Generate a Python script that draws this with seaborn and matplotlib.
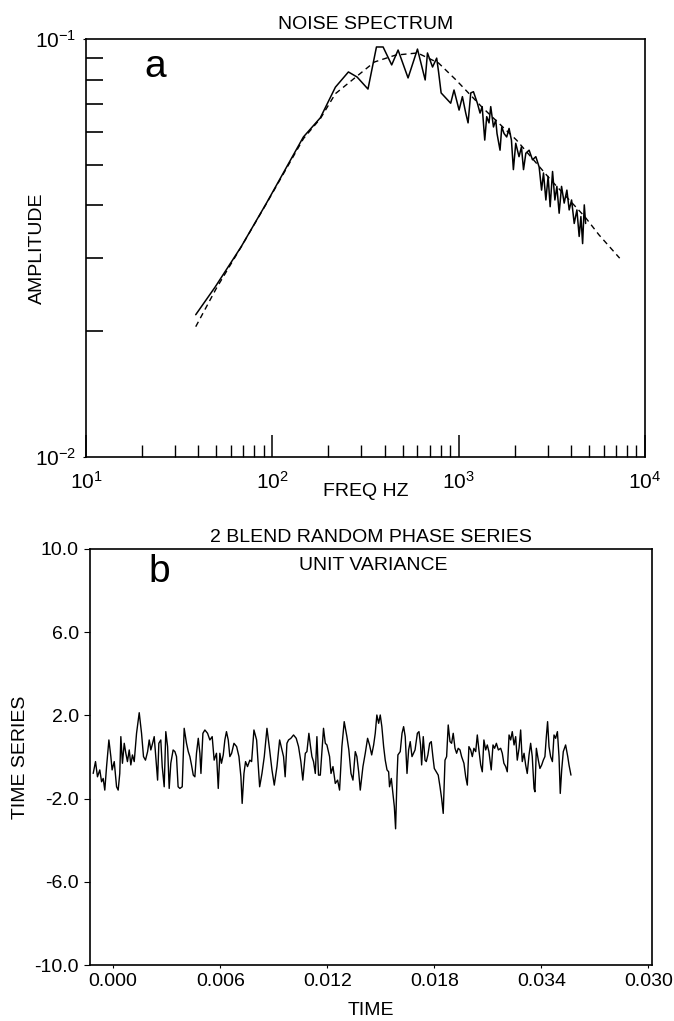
import numpy as np
import pandas as pd
import matplotlib
matplotlib.use('Agg')
import matplotlib.pyplot as plt
from matplotlib.ticker import NullFormatter
import seaborn as sns

spec_freq = [38.8, 49.3, 67.9, 93.3, 146.8, 181, 218, 256, 285, 326, 362, 393, 437, 473, 535,
             601, 661, 680, 724, 762, 780, 805, 906, 944, 1005, 1047, 1091, 1123, 1161, 1200,
             1260, 1302, 1337, 1380, 1414, 1455, 1486, 1537, 1581, 1606, 1667, 1703, 1752, 1810,
             1864, 1919, 1966, 2024, 2108, 2172, 2228, 2293, 2388, 2490, 2594, 2703, 2785, 2852,
             2937, 3020, 3097, 3190, 3283, 3365, 3461, 3565, 3683, 3808, 3918, 4035, 4169, 4310,
             4432, 4528, 4625, 4721, 4801]
spec_amp = [0.0219, 0.0255, 0.0318, 0.0406, 0.0583, 0.0648, 0.0767, 0.0834, 0.0811, 0.0759,
            0.0957, 0.0957, 0.0867, 0.0941, 0.0807, 0.0946, 0.0798, 0.0926, 0.0857, 0.0900,
            0.0834, 0.0743, 0.0702, 0.0755, 0.0676, 0.0728, 0.0665, 0.0630, 0.0743, 0.0748,
            0.0702, 0.0665, 0.0689, 0.0573, 0.0652, 0.0630, 0.0689, 0.0616, 0.0640, 0.0594,
            0.0542, 0.0616, 0.0594, 0.0583, 0.0611, 0.0573, 0.0487, 0.0563, 0.0523, 0.0552,
            0.0487, 0.0533, 0.0542, 0.0514, 0.0523, 0.0494, 0.0435, 0.0478, 0.0412, 0.0469,
            0.0397, 0.0482, 0.0412, 0.0444, 0.0383, 0.0444, 0.0405, 0.0435, 0.0390, 0.0412,
            0.0362, 0.0390, 0.0337, 0.0376, 0.0324, 0.0401, 0.0362]
model_freq = [38.8, 50, 68, 93, 147, 181, 218, 277, 353, 458, 601, 780, 968, 1334, 2044,
              3122, 4770, 5660, 7311]
model_amp = [0.0205, 0.0253, 0.0318, 0.0404, 0.0578, 0.0645, 0.0740, 0.0807, 0.0881, 0.0915,
             0.0926, 0.0876, 0.0798, 0.0687, 0.0573, 0.0460, 0.0375, 0.0340, 0.0299]

# panel b: random phase time series, time in ms (three stretches as read)
ts_ms_1 = [-1.12, -0.99, -0.88, -0.75, -0.65, -0.56, -0.47, -0.37, -0.24, -0.13, -0.06, 0.06,
           0.19, 0.28, 0.37, 0.43, 0.52, 0.62, 0.71, 0.80, 0.90, 0.99, 1.08, 1.18, 1.31, 1.46,
           1.59, 1.70, 1.81, 1.93, 2.02, 2.11, 2.21, 2.30, 2.39, 2.49, 2.56, 2.67, 2.75, 2.86,
           2.95, 3.05, 3.14, 3.23, 3.36, 3.46, 3.55, 3.64, 3.74, 3.87, 3.98, 4.11, 4.21, 4.30,
           4.39, 4.49, 4.58, 4.67, 4.77, 4.86, 4.92, 5.03, 5.14, 5.29, 5.42, 5.55, 5.66, 5.79,
           5.89, 5.98, 6.07, 6.17, 6.26, 6.35, 6.45, 6.54, 6.64, 6.77, 6.92, 7.05, 7.16, 7.23,
           7.33, 7.42, 7.53, 7.66, 7.76, 7.89, 8.04]
ts_val_1 = [-0.79, -0.22, -0.95, -0.62, -1.19, -1.03, -1.59, -0.46, 0.82, 0.02, -0.62, -0.22,
            -1.43, -1.59, -0.79, 0.98, -0.30, 0.66, 0.18, -0.22, 0.34, -0.38, 0.10, -0.22, 1.14,
            2.13, 1.14, 0.02, -0.15, 0.26, 0.82, 0.34, 0.66, 0.98, 0.02, -1.11, 0.66, 0.82, -0.46,
            -1.43, 1.22, 0.50, -1.51, -0.30, 0.34, 0.26, 0.02, -1.43, -1.51, -1.43, 1.38, 0.66,
            0.26, 0.02, -0.38, -0.87, -0.95, 0.18, 0.90, 0.18, -0.79, 1.14, 1.30, 1.14, 0.82, 0.98,
            -0.15, 0.18, -1.51, 0.18, -0.30, 0.10, 0.82, 1.22, 0.82, 0.02, 0.18, 0.66, 0.50, 0.02,
            -0.95, -2.23, -0.79, -0.22, -0.46, -0.15, -0.22, 1.30, 0.82]
ts_ms_2 = [8.21, 8.34, 8.47, 8.62, 8.77, 8.90, 9.03, 9.18, 9.33, 9.46, 9.55, 9.64, 9.74, 9.83,
           9.96, 10.11, 10.26, 10.39, 10.52, 10.63, 10.77, 10.86, 10.97, 11.05, 11.14, 11.23,
           11.33, 11.42, 11.51, 11.61, 11.70, 11.79, 11.89, 11.98, 12.13, 12.21, 12.32, 12.45,
           12.58, 12.69, 12.82, 12.95, 13.10, 13.21, 13.33, 13.44, 13.57, 13.66, 13.76, 13.85,
           14.00, 14.13, 14.26, 14.37, 14.49, 14.60, 14.69, 14.78, 14.88, 14.97, 15.06, 15.16,
           15.25, 15.35, 15.44, 15.49, 15.59, 15.68, 15.76, 15.83, 15.91, 15.96, 16.09, 16.19,
           16.28, 16.37, 16.47, 16.56, 16.65, 16.75]
ts_val_2 = [-1.43, -0.79, 0.02, 1.38, 0.34, -0.62, -1.35, -0.46, 0.82, 0.34, 0.02, -0.95, 0.66,
            0.82, 0.90, 1.06, 0.90, 0.50, -0.22, -1.11, 0.18, 0.26, 1.14, 0.58, 0.02, -0.22,
            -0.79, 0.98, -0.87, -0.87, 0.26, 1.38, 0.66, 0.58, 0.02, -0.79, -0.46, -1.27, -1.11,
            -1.59, 0.50, 1.70, 0.98, 0.34, -0.79, -1.11, 0.26, 0.02, -0.71, -1.59, -0.46, 0.18,
            0.90, 0.58, 0.10, 0.58, 1.14, 2.02, 1.62, 2.02, 1.46, 0.50, -0.15, -0.62, -0.71,
            -1.43, -1.03, -1.75, -2.39, -3.45, -0.95, 0.10, 0.26, 1.14, 1.46, 0.98, -0.79, 0.34,
            0.74, 0.02]
ts_ms_3 = [16.92, 17.05, 17.14, 17.23, 17.29, 17.38, 17.48, 17.55, 17.64, 17.74, 17.83, 17.92,
           18.00, 18.11, 18.22, 18.32, 18.41, 18.50, 18.60, 18.69, 18.78, 18.88, 18.97, 19.06,
           19.16, 19.25, 19.34, 19.44, 19.53, 19.66, 19.76, 19.85, 19.94, 20.04, 20.13, 20.22,
           20.32, 20.41, 20.50, 20.60, 20.69, 20.78, 20.88, 20.97, 21.06, 21.19, 21.29, 21.38,
           21.48, 21.59, 21.72, 21.81, 21.90, 22.00, 22.09, 22.19, 22.28, 22.37, 22.47, 22.56,
           22.65, 22.75, 22.84, 22.93, 23.03, 23.12, 23.21, 23.31, 23.40, 23.49, 23.59, 23.64,
           23.72, 23.83, 23.92, 24.02, 24.11, 24.20, 24.28, 24.35, 24.43, 24.52, 24.62, 24.71,
           24.80, 24.90, 24.99, 25.06, 25.14, 25.23, 25.36, 25.48, 25.55, 25.66]
ts_val_3 = [0.34, 1.14, 1.22, 0.58, -0.38, 0.98, -0.15, -0.22, 0.10, 0.66, 0.74, 0.02, -0.55,
            -0.71, -0.87, -1.43, -1.99, -2.71, -0.15, 0.02, 1.54, 0.74, 0.66, 1.14, 0.42, 0.18,
            0.42, 0.34, 0.02, -0.30, -0.95, -1.35, 0.50, 0.34, 0.02, 0.42, 0.26, 1.06, 0.34,
            -0.38, -0.71, 0.82, 0.34, 0.58, 0.26, -0.62, 0.58, 0.42, 0.66, 0.34, 0.42, 0.18,
            -0.30, -0.46, -0.71, 1.06, 0.82, 1.22, 0.58, 0.98, -0.15, 0.42, 1.30, -0.22, 0.18,
            -0.38, -0.79, 0.10, 0.66, 0.02, -1.51, -1.67, 0.42, -0.15, -0.55, -0.38, -0.15, 0.02,
            0.98, 1.70, 0.50, 0.02, -0.22, 1.06, 0.90, 1.22, 0.02, -1.75, -0.62, 0.26, 0.58, 0.02,
            -0.38, -0.87]

freq_ticks = [10, 100, 1000, 10000]
freq_labels = ['$10^{1}$', '$10^{2}$', '$10^{3}$', '$10^{4}$']
amp_ticks = [0.01, 0.1]
amp_labels = ['$10^{-2}$', '$10^{-1}$']
time_ticks = [0.0, 0.006, 0.012, 0.018, 0.024, 0.030]
time_labels = ['0.000', '0.006', '0.012', '0.018', '0.034', '0.030']
ts_ticks = [10, 6, 2, -2, -6, -10]
ts_labels = ['10.0', '6.0', '2.0', '-2.0', '-6.0', '-10.0']

spec = pd.DataFrame({'freq': spec_freq, 'amp': spec_amp})
model = pd.DataFrame({'freq': model_freq, 'amp': model_amp})
ts = pd.DataFrame({'time': np.array(ts_ms_1 + ts_ms_2 + ts_ms_3) / 1000.0,
                   'value': ts_val_1 + ts_val_2 + ts_val_3})

sns.set_style('ticks')
plt.rcParams['font.family'] = ['Liberation Sans', 'DejaVu Sans']
plt.rcParams['mathtext.fontset'] = 'custom'
plt.rcParams['mathtext.rm'] = 'Liberation Sans'
plt.rcParams['mathtext.it'] = 'Liberation Sans'
plt.rcParams['axes.edgecolor'] = 'black'
plt.rcParams['axes.linewidth'] = 1.2
plt.rcParams['xtick.color'] = 'black'
plt.rcParams['ytick.color'] = 'black'
plt.rcParams['text.color'] = 'black'
plt.rcParams['axes.labelcolor'] = 'black'

fig = plt.figure(figsize=(6.74, 10.21), dpi=100)
ax1 = fig.add_axes([0.1276, 0.5524, 0.8294, 0.4094])
ax2 = fig.add_axes([0.1335, 0.0548, 0.8338, 0.4075])

# --- a: spectrum
sns.lineplot(data=spec, x='freq', y='amp', ax=ax1, color='black', lw=1.1,
             sort=False, estimator=None)
sns.lineplot(data=model, x='freq', y='amp', ax=ax1, color='black', lw=1.0,
             linestyle=(0, (4, 3)), sort=False, estimator=None)
ax1.set_xscale('log')
ax1.set_yscale('log')
ax1.set_xlim(10, 10000)
ax1.set_ylim(0.01, 0.1)
ax1.set_xticks(freq_ticks, labels=freq_labels)
ax1.set_yticks(amp_ticks, labels=amp_labels)
ax1.xaxis.set_minor_formatter(NullFormatter())
ax1.yaxis.set_minor_formatter(NullFormatter())
ax1.tick_params(axis='x', which='major', direction='in', length=16, width=1.1, pad=10, labelsize=15)
ax1.tick_params(axis='x', which='minor', direction='in', length=9, width=1.0)
ax1.tick_params(axis='y', which='major', direction='out', length=2, pad=5, labelsize=15)
ax1.tick_params(axis='y', which='minor', direction='in', length=12, width=1.2)
ax1.set_xlabel('FREQ HZ', fontsize=14)
ax1.set_ylabel('AMPLITUDE', fontsize=14)
ax1.xaxis.set_label_coords(0.5, -0.062)
ax1.yaxis.set_label_coords(-0.072, 0.5)
ax1.set_title('NOISE SPECTRUM', fontsize=14, pad=7)
ax1.text(0.123, 0.933, 'a', transform=ax1.transAxes, fontsize=28, ha='center', va='center')

# --- b: time series
sns.lineplot(data=ts, x='time', y='value', ax=ax2, color='black', lw=1.0,
             sort=False, estimator=None)
ax2.set_xlim(-0.0013, 0.0302)
ax2.set_ylim(-10, 10)
ax2.set_xticks(time_ticks, labels=time_labels)
ax2.set_yticks(ts_ticks, labels=ts_labels)
ax2.tick_params(axis='x', direction='out', length=2, pad=4, labelsize=14)
ax2.tick_params(axis='y', direction='out', length=4, pad=4, labelsize=14)
ax2.set_xlabel('TIME', fontsize=14)
ax2.set_ylabel('TIME SERIES', fontsize=14)
ax2.xaxis.set_label_coords(0.5, -0.088)
ax2.yaxis.set_label_coords(-0.108, 0.5)
ax2.set_title('2 BLEND RANDOM PHASE SERIES', fontsize=14, pad=5)
ax2.text(0.5036, 0.9615, 'UNIT VARIANCE', transform=ax2.transAxes, fontsize=14,
         ha='center', va='center')
ax2.text(0.123, 0.945, 'b', transform=ax2.transAxes, fontsize=28, ha='center', va='center')

fig.savefig('out.png', dpi=100)
